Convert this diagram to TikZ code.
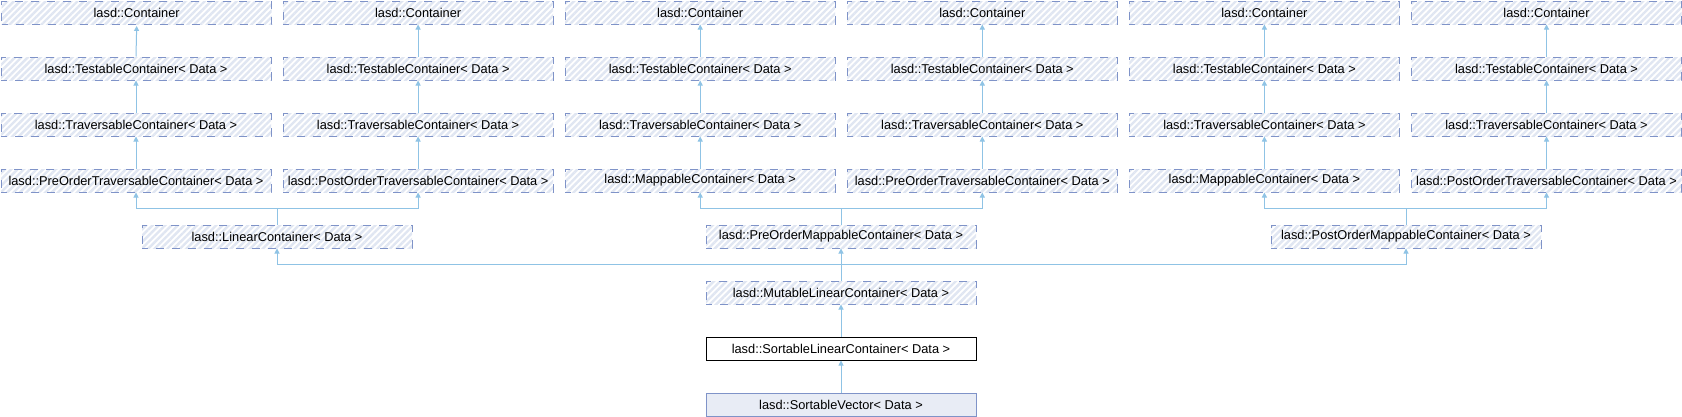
\documentclass[tikz,border=0pt]{standalone}
\usepackage{fontspec}
\setmainfont{Liberation Sans}
\usetikzlibrary{patterns.meta, arrows.meta}

\definecolor{edgeblue}{HTML}{8FC3E5}
\definecolor{boxblue}{HTML}{7F93C8}
\definecolor{hatchblue}{HTML}{E0E6F2}
\definecolor{leafblue}{HTML}{E8ECF5}

\tikzset{
    cls/.style={anchor=north west, minimum width=270pt, minimum height=23pt,
        inner sep=0pt, line width=1pt, font=\fontsize{12.8}{14}\selectfont},
    hatched/.style={cls, draw=boxblue, dash pattern=on 8pt off 8pt, dash phase=2pt,
        pattern={Lines[angle=45, distance=4.5pt, line width=2.4pt]}, pattern color=hatchblue},
    plain/.style={cls, draw=black, fill=white},
    leaf/.style={cls, draw=boxblue, fill=leafblue},
    edge/.style={draw=edgeblue, line width=1pt, -{Triangle[length=5pt, width=5pt]}}
}

\begin{document}
\begin{tikzpicture}[x=1pt, y=-1pt]
\path[use as bounding box, fill=white] (0, 0) rectangle (1682, 416);

% Draw the six base chains.
\foreach \i/\x/\base in {1/0.5/PreOrderTraversableContainer,
                         2/282.6/PostOrderTraversableContainer,
                         3/564.7/MappableContainer,
                         4/846.8/PreOrderTraversableContainer,
                         5/1128.9/MappableContainer,
                         6/1411/PostOrderTraversableContainer}
{
    \node[hatched] (cont\i) at (\x, 0.5) {lasd::Container};
    \node[hatched] (test\i) at (\x, 56.5) {lasd::TestableContainer< Data >};
    \node[hatched] (trav\i) at (\x, 112.5) {lasd::TraversableContainer< Data >};
    \node[hatched] (base\i) at (\x, 168.5) {lasd::\base< Data >};
    \draw[edge] (test\i.north) -- (cont\i.south);
    \draw[edge] (trav\i.north) -- (test\i.south);
    \draw[edge] (base\i.north) -- (trav\i.south);
}

% Draw the middle classes.
\node[hatched] (linear) at (141.5, 224.5) {lasd::LinearContainer< Data >};
\node[hatched] (premap) at (705.5, 224.5) {lasd::PreOrderMappableContainer< Data >};
\node[hatched] (postmap) at (1270.5, 224.5) {lasd::PostOrderMappableContainer< Data >};
\node[hatched] (mutable) at (705.5, 280.5) {lasd::MutableLinearContainer< Data >};
\node[plain] (sortable) at (705.5, 336.5) {lasd::SortableLinearContainer< Data >};
\node[leaf] (vector) at (705.5, 392.5) {lasd::SortableVector< Data >};

% Junction levels.
\coordinate (upper) at (0, 208.5);
\coordinate (lower) at (0, 264.5);

% Draw the inheritance edges.
\draw[edge] (linear.north) -- (linear.north |- upper) -| (base1.south);
\draw[edge] (linear.north |- upper) -| (base2.south);
\draw[edge] (premap.north) -- (premap.north |- upper) -| (base3.south);
\draw[edge] (premap.north |- upper) -| (base4.south);
\draw[edge] (postmap.north) -- (postmap.north |- upper) -| (base5.south);
\draw[edge] (postmap.north |- upper) -| (base6.south);

\draw[edge] (mutable.north) -- (mutable.north |- lower) -| (linear.south);
\draw[edge] (mutable.north |- lower) -- (premap.south);
\draw[edge] (mutable.north |- lower) -| (postmap.south);
\draw[edge] (sortable.north) -- (mutable.south);
\draw[edge] (vector.north) -- (sortable.south);

\end{tikzpicture}
\end{document}
